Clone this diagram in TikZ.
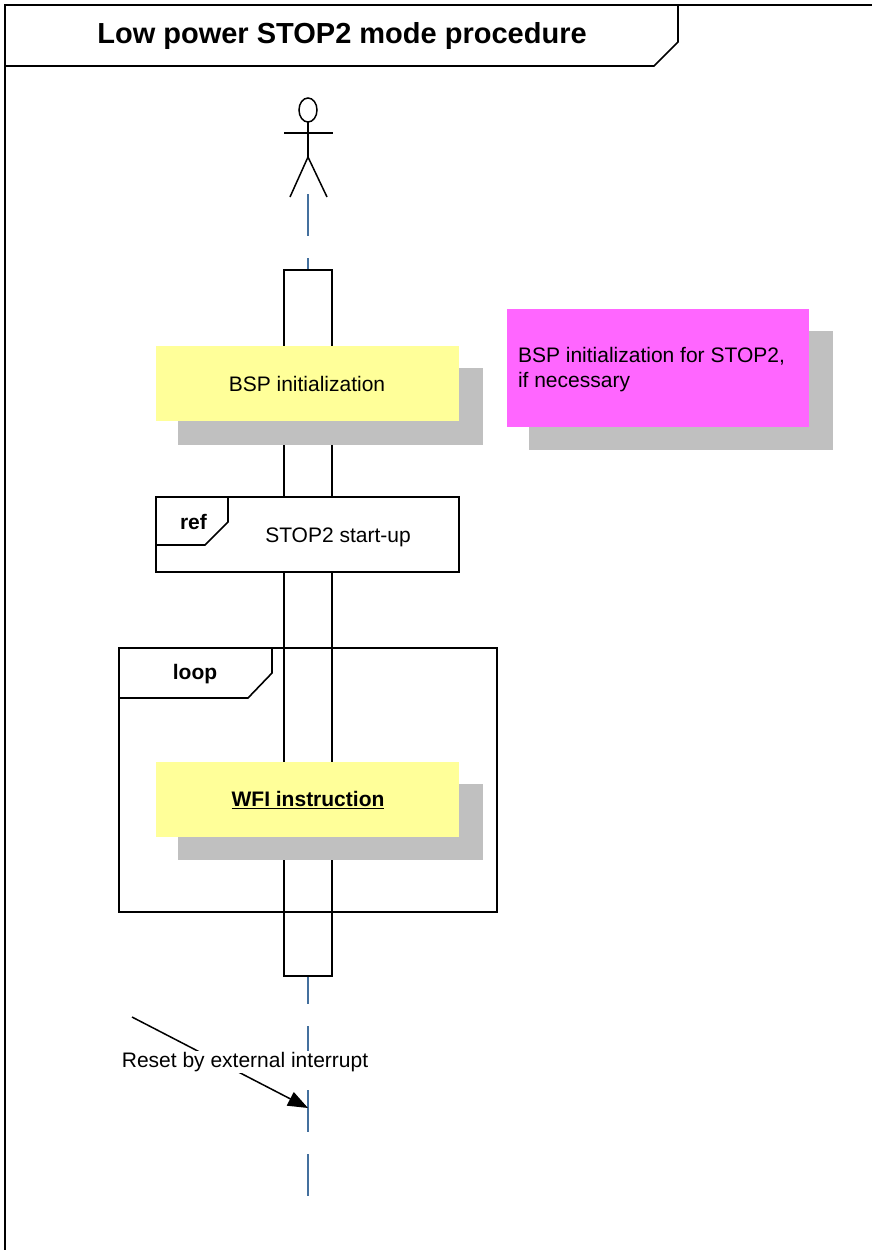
\documentclass[tikz,border=0pt]{standalone}
\usepackage{fontspec}
\setmainfont{Liberation Sans}
\usetikzlibrary{arrows.meta}
\definecolor{lifeblue}{HTML}{44709E}
\definecolor{noteyellow}{HTML}{FFFF99}
\definecolor{notemagenta}{HTML}{FF66FF}
\definecolor{shadowgray}{HTML}{C0C0C0}
\begin{document}
\begin{tikzpicture}[x=1pt,y=-1pt,
  every node/.style={font=\fontsize{21}{25}\selectfont, inner sep=0pt, outer sep=0pt},
  frameline/.style={draw=black, line width=1.6pt},
  lifeline/.style={draw=lifeblue, line width=2.3pt, dash pattern=on 42pt off 22pt},
  shadowbox/.style={fill=shadowgray, draw=none, anchor=north west},
  yellowbox/.style={fill=noteyellow, draw=none, anchor=north west},
  magentabox/.style={fill=notemagenta, draw=none, anchor=north west},
  whitebox/.style={fill=white, frameline, anchor=north west},
  tagtext/.style={font=\fontsize{21}{25}\selectfont\bfseries},
  msg/.style={draw=black, line width=1.5pt, -{Triangle[length=20pt,width=15pt]}}
]
\useasboundingbox (0,0) rectangle (872,1250);
\fill[white] (0,0) rectangle (872,1250);

% outer frame and title tag
\draw[frameline] (5,1260) -- (5,5) -- (880,5);
\draw[frameline] (5,66) -- (654,66) -- (678,42) -- (678,5);
\node[font=\fontsize{29}{34}\selectfont\bfseries] (title) at (342,36) {Low power STOP2 mode procedure};

% actor
\coordinate (actor) at (308,110);
\draw[line width=1.5pt] (actor) ellipse [x radius=9pt, y radius=12pt];
\draw[line width=1.5pt] (284,133) -- (333,133);
\draw[line width=1.5pt] (308,122) -- (308,157);
\draw[line width=1.5pt] (290,197) -- (308,157) -- (327,197);

% lifeline
\coordinate (lifetop) at (308,194);
\coordinate (lifeend) at (308,1196);
\draw[lifeline] (lifetop) -- (lifeend);

% activation bar
\node[whitebox, minimum width=48pt, minimum height=706pt] (act) at (284,270) {};

% BSP initialization
\node[shadowbox, minimum width=305pt, minimum height=77pt] (bspshadow) at (178,368) {};
\node[yellowbox, minimum width=303pt, minimum height=75pt] (bsp) at (156,346) {};
\node (bsptext) at (307,384) {BSP initialization};

% note
\node[shadowbox, minimum width=304pt, minimum height=119pt] (noteshadow) at (529,331) {};
\node[magentabox, minimum width=302pt, minimum height=118pt] (note) at (507,309) {};
\node[anchor=north west, align=left] (notetext) at (518,347) {BSP initialization for STOP2,\\if necessary};

% ref frame
\node[whitebox, minimum width=303pt, minimum height=75pt] (ref) at (156,497) {};
\draw[frameline] (156,545) -- (205,545) -- (228,522) -- (228,497);
\node[tagtext] (reftag) at (193.5,522) {ref};
\node (reftext) at (338,537) {STOP2 start-up};

% loop frame
\node[frameline, anchor=north west, minimum width=378pt, minimum height=264pt] (loop) at (119,648) {};
\draw[frameline] (119,698) -- (248,698) -- (272,673) -- (272,648);
\node[tagtext] (looptag) at (195,674) {loop};

% WFI instruction
\node[shadowbox, minimum width=305pt, minimum height=76pt] (wfishadow) at (178,784) {};
\node[yellowbox, minimum width=303pt, minimum height=75pt] (wfi) at (156,762) {};
\node[tagtext] (wfitext) at (308,800) {\underline{WFI instruction}};

% reset message
\coordinate (rsrc) at (132,1017);
\coordinate (rdst) at (308,1108);
\draw[msg] (rsrc) -- (rdst);
\node[fill=white, inner xsep=1pt, inner ysep=1pt] (resetlabel) at (245,1062) {Reset by external interrupt};
\end{tikzpicture}
\end{document}
